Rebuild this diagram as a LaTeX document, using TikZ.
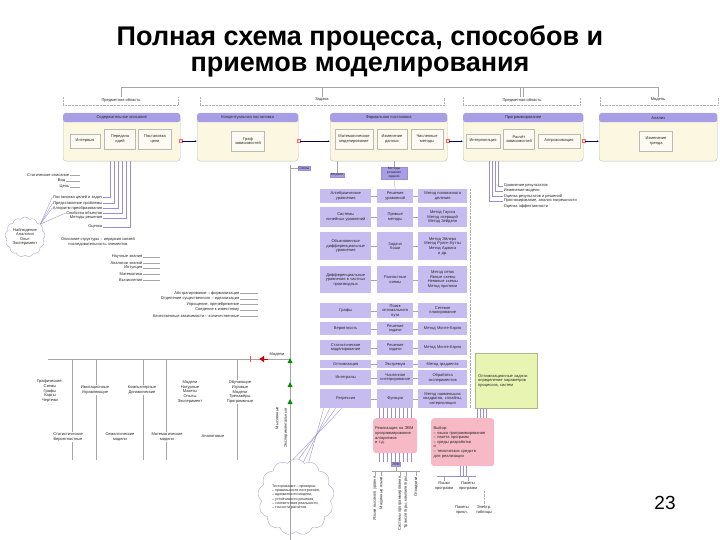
\documentclass[tikz,border=0pt]{standalone}
\usepackage{fontspec}
\setmainfont{Liberation Sans}
\usetikzlibrary{shapes.symbols,arrows.meta}

\definecolor{lila}{HTML}{C6BCF0}
\definecolor{lilakopf}{HTML}{A79EE6}
\definecolor{lilalinie}{HTML}{9A8FD6}
\definecolor{creme}{HTML}{FBF7E0}
\definecolor{gruen}{HTML}{E8F5B2}
\definecolor{rosa}{HTML}{F6B9C5}

\tikzset{
  tx/.style={font=\fontsize{4}{4.6}\selectfont, inner sep=0.6pt, align=center, text=black!85},
  txl/.style={tx, anchor=west, align=left},
  txr/.style={tx, anchor=east, align=right},
  titel/.style={font=\bfseries\fontsize{27}{32}\selectfont, inner sep=0pt},
  panel/.style={draw=gray!50, fill=creme, rounded corners=3pt, anchor=north west, inner sep=0pt},
  kopf/.style={tx, fill=lilakopf, rounded corners=2.5pt, anchor=north west, minimum height=9},
  ibox/.style={tx, draw=gray!55, fill=white!55!creme, minimum height=20},
  kletka/.style={tx, fill=lila, anchor=north west},
  rosabox/.style={tx, fill=rosa, rounded corners=3pt, anchor=north west, align=left},
  gruenbox/.style={tx, fill=gruen, draw=gruen!75!black, anchor=north west, align=left},
  metka/.style={tx, fill=lilakopf, draw=lilalinie, font=\fontsize{3.4}{4}\selectfont},
  wolke/.style={tx, cloud, draw=lilalinie!80, cloud puffs=13, cloud puff arc=115},
  kvadrat/.style={draw=red!60, fill=rosa!60, minimum size=3, inner sep=0pt},
  link/.style={gray!70, line width=0.35pt},
  plink/.style={lilalinie, line width=0.35pt},
  punkt/.style={gray!60, densely dotted, line width=0.4pt},
  pfeil/.style={-{Latex[length=2.2pt,width=1.8pt]}, blue!35!black, line width=0.4pt},
}

\begin{document}
\begin{tikzpicture}[x=1pt, y=-1pt]
\fill[white] (0,0) rectangle (720,540);
\useasboundingbox (0,0) rectangle (720,540);

% titel
\node[titel] (t1) at (360,38) {Полная схема процесса, способов и};
\node[titel] (t2) at (360,67) {приемов моделирования};

% obere klammer
\coordinate (kl1) at (122,87);
\coordinate (kl2) at (658,87);
\draw[link] (kl1) -- (kl2);
\node[tx] (z1) at (121,100) {Предметная область};
\node[tx] (z2) at (322,100) {Задача};
\node[tx] (z3) at (522,100) {Предметная область};
\node[tx] (z4) at (658,100) {Модель};
\draw[link] (z1.north |- kl1) -- (z1.north);
\draw[link] (z2.north |- kl1) -- (z2.north);
\draw[link] ([xshift=-1.5]z3.north |- kl1) -- ([xshift=-1.5]z3.north);
\draw[link] ([xshift=1.5]z3.north |- kl1) -- ([xshift=1.5]z3.north);
\draw[link] (z4.north |- kl1) -- (z4.north);
\draw[punkt] (63,97) -- (63,105) -- (178,105) -- (178,97);
\draw[punkt] (200,97) -- (200,105) -- (444,105) -- (444,97);
\draw[punkt] (463,97) -- (463,105) -- (580,105) -- (580,97);
\draw[punkt] (600,97) -- (600,105) -- (718,105) -- (718,97);

% panels
\node[panel, minimum width=117, minimum height=48] (p1) at (63,113) {};
\node[panel, minimum width=101, minimum height=48] (p2) at (197,113) {};
\node[panel, minimum width=117, minimum height=48] (p3) at (330,113) {};
\node[panel, minimum width=120, minimum height=48] (p4) at (463,113) {};
\node[panel, minimum width=118, minimum height=48] (p5) at (599,113) {};
\node[kopf, minimum width=117] (h1) at (63,113) {Содержательное описание};
\node[kopf, minimum width=101] (h2) at (197,113) {Концептуальная постановка};
\node[kopf, minimum width=117] (h3) at (330,113) {Формальная постановка};
\node[kopf, minimum width=120] (h4) at (463,113) {Программирование};
\node[kopf, minimum width=118] (h5) at (599,113) {Анализ};

\node[ibox, minimum width=30, minimum height=14] (b11) at (85,141) {Интервью};
\node[ibox, minimum width=31] (b12) at (120,139) {Передача\\идей};
\node[ibox, minimum width=33] (b13) at (155,139) {Постановка\\цели};
\node[ibox, minimum width=33] (b21) at (248,141) {Граф\\зависимостей};
\node[ibox, minimum width=38] (b31) at (354,139) {Математическое\\моделирование};
\node[ibox, minimum width=30] (b32) at (392,139) {Изменение\\данных};
\node[ibox, minimum width=32] (b33) at (427,139) {Численные\\методы};
\node[ibox, minimum width=34, minimum height=14] (b41) at (483,141) {Интерполяция};
\node[ibox, minimum width=31] (b42) at (519,139) {Расчёт\\зависимостей};
\node[ibox, minimum width=42, minimum height=14] (b43) at (559,141) {Аппроксимация};
\node[ibox, minimum width=33] (b51) at (656,141) {Изменение\\тренда};

\foreach \a/\b in {p1/p2, p2/p3, p3/p4, p4/p5} {
  \node[kvadrat] (s\a) at ([yshift=-4pt]\a.east) {};
  \draw[pfeil] (s\a.east) -- (s\a.east -| \b.west);
}

% links oben
\node[txr] (l1) at (70,175) {Статическое описание};
\node[txr] (l2) at (66,181) {Вид};
\node[txr] (l3) at (70,187) {Цель};
\coordinate (lx) at (80,175);
\foreach \l in {l1,l2,l3} \draw[link] (\l.east) -- (\l.east -| lx);

\node[txr] (m1) at (103,197) {Постановка целей и задач};
\node[txr] (m2) at (103,203) {Представление проблемы};
\node[txr] (m3) at (103,208) {Алгоритм преобразования};
\node[txr] (m4) at (103,213) {Свойства объектов};
\node[txr] (m5) at (103,218) {Методы решения};
\node[txr] (m6) at (103,227) {Оценка};
\foreach \m/\dx in {m1/-12, m2/-8, m3/-4, m4/0, m5/4, m6/8}
  \draw[plink] (\m.east) -| ([xshift=\dx]p1.south);

\node[wolke] (obl1) at (25,237) {Наблюдение\\Аналогия\\Опыт\\Эксперимент};
\foreach \m in {m1,m2,m3,m4} \draw[plink] (obl1.40) -- (\m.west);

\node[tx] (opis) at (98,242) {Описание структуры – иерархия связей\\последовательность элементов};

\node[txr] (n1) at (143,257) {Научные знания};
\node[txr] (n2) at (143,263) {Аналогии знаний};
\node[txr] (n3) at (143,268) {Интуиция};
\node[txr] (n4) at (143,274) {Математика};
\node[txr] (n5) at (143,280) {Вычисления};
\coordinate (nx) at (160,257);
\foreach \n in {n1,n2,n3,n4,n5} \draw[link] (\n.east) -- (\n.east -| nx);

\node[txr] (q1) at (240,293) {Абстрагирование – формализация};
\node[txr] (q2) at (240,299) {Отделение существенного – идеализация};
\node[txr] (q3) at (240,304) {Упрощение, пренебрежение};
\node[txr] (q4) at (240,310) {Сведение к известному};
\node[txr] (q5) at (240,316) {Качественные зависимости – количественные};
\coordinate (qx) at (258,293);
\foreach \q in {q1,q2,q3,q4,q5} \draw[link] (\q.east) -- (\q.east -| qx);

% rechts oben
\node[txl] (r1) at (503,186) {Сравнение результатов};
\node[txl] (r2) at (503,191) {Изменение модели};
\node[txl] (r3) at (503,196) {Оценка результатов и решений};
\node[txl] (r4) at (503,201) {Прогнозирование, анализ погрешности};
\node[txl] (r5) at (503,206) {Оценка эффективности};
\foreach \r/\dx in {r1/-25, r2/-28, r3/-31, r4/-34}
  \draw[plink] (\r.west) -| ([xshift=\dx]p4.south);

% vertikale
\coordinate (vt) at (290,165);
\coordinate (vb) at (290,540);
\draw[link] (vt) -- (vb);
\node[metka] (sx) at (304,168) {Схемы};
\draw[link] (sx.west) -- (sx.west -| vt);
\node[metka] (mod) at (337,175) {Модели};
\node[metka, text width=25] (mr) at (394,173) {Методы\\решения\\задачи};
\draw[link] (p3.south -| mod) -- (mod.north);
\draw[link] (p3.south -| mr) -- (mr.north);

% tabelle
\foreach \y/\h/\ta/\tb/\tc [count=\i] in {
 189/14/{Алгебраические\\уравнения}/{Решение\\уравнений}/{Метод половинного\\деления},
 207/20/{Системы\\линейных уравнений}/{Прямые\\методы}/{Метод Гаусса\\Метод итераций\\Метод Зейделя},
 232/28/{Обыкновенные\\дифференциальные\\уравнения}/{Задача\\Коши}/{Метод Эйлера\\Метод Рунге–Кутты\\Метод Адамса\\и др.},
 266/27/{Дифференциальные\\уравнения в частных\\производных}/{Разностные\\схемы}/{Метод сеток\\Явные схемы\\Неявные схемы\\Метод прогонки},
 303/15/{Графы}/{Поиск\\оптимального пути}/{Сетевое\\планирование},
 322/13/{Вероятность}/{Решение\\задачи}/{Метод Монте-Карло},
 340/15/{Статистическое\\моделирование}/{Решение\\задачи}/{Метод Монте-Карло},
 360/8/{Оптимизация}/{Экстремум}/{Метод градиента},
 370/15/{Интегралы}/{Численное\\интегрирование}/{Обработка\\экспериментов},
 389/19/{Регрессия}/{Функции}/{Метод наименьших\\квадратов, сплайны,\\интерполяция}}{
  \node[kletka, minimum width=51, minimum height=\h, text width=48] (ka\i) at (320,\y) {\ta};
  \node[kletka, minimum width=36, minimum height=\h, text width=33] (kb\i) at (377,\y) {\tb};
  \node[kletka, minimum width=49, minimum height=\h, text width=46] (kc\i) at (418,\y) {\tc};
  \draw[link] (ka\i.east) -- (kb\i.west);
  \draw[link] (kb\i.east) -- (kc\i.west);
}
\draw[link] (mr.south) -- (kb1.north);
\draw[punkt] ([xshift=3]kc1.north east) -- ([xshift=3]kc10.south east);

\node[gruenbox, minimum width=62, minimum height=55, text width=56] (zel) at (475,353) {Оптимизационные задачи:\\определение параметров\\процессов, систем};

% rosa
\node[rosabox, minimum width=44, minimum height=35, text width=40] (rz1) at (373,418) {Реализация на ЭВМ\\программирование\\алгоритмов\\и т.д.};
\node[rosabox, minimum width=63, minimum height=48, text width=58] (rz2) at (431,418) {Выбор:\\– языка программирования\\– пакета программ\\– среды разработки\\и\\– технических средств\\для реализации};
\foreach \dx in {-16,-12,...,16}
  \draw[plink] ([xshift=\dx]rz1.north) -- ([xshift=\dx]rz1.north |- kb10.south);
\foreach \dx in {2,5,8,11}
  \draw[plink] ([xshift=\dx]zel.south west) -- ([xshift=\dx]zel.south west |- rz2.north);

\node[metka] (evm) at (396,464) {ЭВМ};
\foreach \dx in {-16,-12,...,16}
  \draw[plink] ([xshift=\dx]rz1.south) -- ([xshift=\dx]rz1.south |- evm.north);
\coordinate (ja) at (372,471);
\coordinate (jb) at (420,471);
\draw[link] (ja) -- (jb);
\draw[link] (evm.south) -- (evm.south |- ja);
\node[tx, rotate=90, anchor=east] (j1) at (375,476) {Языки высокого уровня};
\node[tx, rotate=90, anchor=east] (j2) at (381,476) {Машинные языки};
\node[tx, rotate=90, anchor=east] (j3) at (400,476) {Системы программирования};
\node[tx, rotate=90, anchor=east] (j4) at (406,476) {Трансляторы, компиляторы};
\node[tx, rotate=90, anchor=east] (j5) at (416,476) {Отладчики};
\foreach \j in {j1,j2,j3,j4,j5} \draw[link] (\j.east |- ja) -- (\j.east);

\coordinate (pa1) at (437,476);
\coordinate (pa2) at (476,476);
\foreach \dx in {-3,0,3}
  \draw[plink] ([xshift=\dx]rz2.south) -- ([xshift=\dx]rz2.south |- pa1);
\draw[plink] (pa1) -- (pa2);
\node[tx] (jaz) at (444,486) {Языки\\программ};
\node[tx] (pak) at (468,486) {Пакеты\\программ};
\node[tx] (pkb) at (462,510) {Пакеты\\прикл.};
\node[tx] (etab) at (484,510) {Электр.\\таблицы};
\draw[link] (jaz.north |- pa1) -- (jaz.north);
\draw[link] (pak.north |- pa1) -- (pak.north);
\draw[punkt] (etab.north) -- (etab.north |- pak.south);

% unten links
\coordinate (ka) at (48,359);
\coordinate (kb) at (290,359);
\draw[link] (ka) -- (kb);
\foreach \x in {72,96,143,166,237} \draw[link] (\x,359) -- (\x,460);
\node[tx, fill=white] (k1) at (50,393) {Графические:\\Схемы\\Графы\\Карты\\Чертежи\\…};
\node[tx, fill=white] (k2) at (95,390) {Имитационные\\Управляющие};
\node[tx, fill=white] (k3) at (142,390) {Компьютерные\\Динамические};
\node[tx, fill=white] (k4) at (190,392) {Модели\\Натурные\\Макеты\\Опыты\\Эксперимент};
\node[tx, fill=white] (k5) at (240,392) {Обучающие\\Игровые\\Модели\\Тренажёры\\Программные};
\node[tx, fill=white] (k6) at (68,437) {Статистические\\Вероятностные};
\node[tx, fill=white] (k7) at (120,437) {Семантические\\модели};
\node[tx, fill=white] (k8) at (167,437) {Математические\\модели};
\node[tx, fill=white] (k9) at (213,436) {Аналоговые};

\node[tx] (modr) at (277,355) {Модели};
\coordinate (ra) at (268,359);
\coordinate (rb) at (259,359);
\draw[red!80!black, line width=0.8pt, -{Latex[length=5pt,width=7pt]}] (ra) -- (rb);
\draw[red!70, line width=0.6pt] (250,356) -- (250,362);
\foreach \y in {363,387,404}
  \fill[green!55!black] (290,\y) ++(-2.5,0) -- ++(5,0) -- ++(-2.5,-5) -- cycle;
\node[tx, rotate=90] (vt1) at (277,418) {Мысленные};
\node[tx, rotate=90] (vt2) at (286,428) {Экспериментальные};

% wolke unten
\node[wolke, align=left, font=\fontsize{3.6}{4.3}\selectfont] (obl2) at (296,497) {Тестирование – проверка:\\– правильности построения,\\– адекватности модели,\\– устойчивости решения,\\– соответствия реальности,\\– точности расчётов.};
\foreach \dx/\w in {-22/70, -16/78, -10/86, -4/94}
  \draw[plink] ([xshift=\dx]ka10.south) -- (obl2.\w);

\node[font=\fontsize{19}{22}\selectfont] (nr) at (665,503) {23};
\end{tikzpicture}
\end{document}
